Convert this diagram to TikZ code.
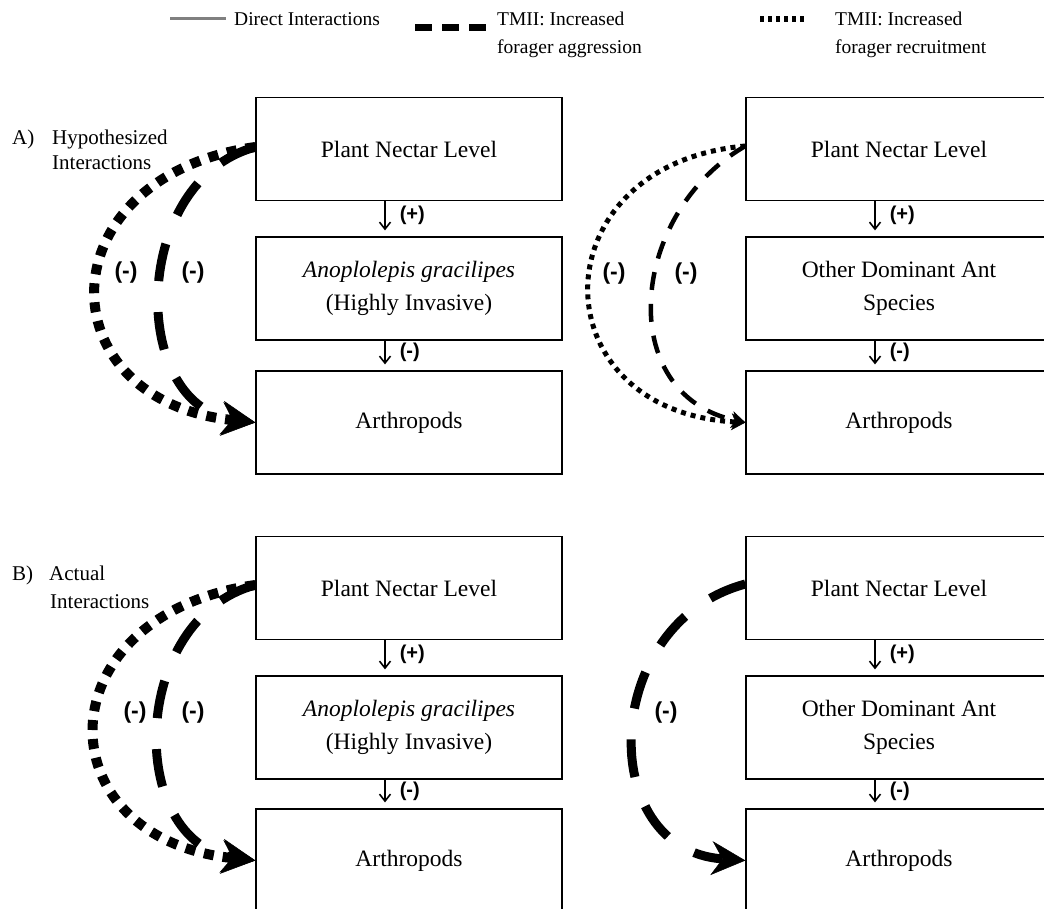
\documentclass[tikz,border=0pt]{standalone}
\usepackage{fontspec}
\setmainfont{Liberation Serif}
\newfontfamily\lsans{Liberation Sans}
\usetikzlibrary{arrows.meta}
\begin{document}
\begin{tikzpicture}[x=1pt,y=-1pt,
  box/.style={draw, line width=1.2pt, minimum width=306pt, minimum height=103pt, inner sep=0pt, font=\fontsize{23.5}{33}\selectfont, align=center},
  sarrow/.style={line width=1.6pt, -{Straight Barb[length=7pt,width=11pt,line width=1.6pt]}},
  sgn/.style={font=\lsans\bfseries\fontsize{20}{24}\selectfont, inner sep=0pt},
  bsgn/.style={font=\lsans\bfseries\fontsize{23}{26}\selectfont, inner sep=0pt},
  lbl/.style={font=\fontsize{21}{25}\selectfont, inner sep=0pt, anchor=base west},
  leg/.style={font=\fontsize{19.5}{28}\selectfont, inner sep=0pt, anchor=base west},
  thickdot/.style={line width=10pt, dash pattern=on 10pt off 9pt},
  thickdash/.style={line width=9pt, dash pattern=on 38pt off 31pt},
  thindot/.style={line width=5pt, dash pattern=on 5pt off 5pt},
  thindash/.style={line width=4.5pt, dash pattern=on 18pt off 14pt},
  bighead/.style={-{Stealth[length=34pt,width=34pt,inset=11pt,line width=0.5pt]}},
  smallhead/.style={-{Stealth[length=14pt,width=17pt,inset=4pt,line width=0.5pt]}},
]
\useasboundingbox (0,0) rectangle (1044,909);
% legend
\coordinate (g1) at (170,19); \coordinate (g2) at (226,19);
\draw[gray, line width=3pt] (g1) -- (g2);
\node[leg] (lt1) at (234,26) {Direct Interactions};
\coordinate (h1) at (415,28); \coordinate (h2) at (487,28);
\draw[line width=7pt, dash pattern=on 17pt off 10pt] (h1) -- (h2);
\node[leg] (lt2) at (497,26) {TMII: Increased};
\node[leg] (lt3) at (497,54) {forager aggression};
\coordinate (k1) at (760,19); \coordinate (k2) at (806,19);
\draw[line width=6pt, dash pattern=on 4pt off 4pt] (k1) -- (k2);
\node[leg] (lt4) at (835,26) {TMII: Increased};
\node[leg] (lt5) at (835,54) {forager recruitment};
% side labels
\node[lbl] (la) at (12,145) {A)};
\node[lbl] (la1) at (52,145) {Hypothesized};
\node[lbl] (la2) at (52,170) {Interactions};
\node[lbl] (lb) at (12,580) {B)};
\node[lbl] (lb1) at (49,580) {Actual};
\node[lbl] (lb2) at (50,608) {Interactions};
% boxes
\node[box] (a1) at (409,149) {Plant Nectar Level};
\node[box] (a2) at (409,288.5) {\textit{Anoplolepis gracilipes}\\(Highly Invasive)};
\node[box] (a3) at (409,422.5) {Arthropods};
\node[box] (c1) at (899,149) {Plant Nectar Level};
\node[box] (c2) at (899,288.5) {Other Dominant Ant\\Species};
\node[box] (c3) at (899,422.5) {Arthropods};
\node[box] (b1) at (409,588) {Plant Nectar Level};
\node[box] (b2) at (409,727.5) {\textit{Anoplolepis gracilipes}\\(Highly Invasive)};
\node[box] (b3) at (409,860.5) {Arthropods};
\node[box] (d1) at (899,588) {Plant Nectar Level};
\node[box] (d2) at (899,727.5) {Other Dominant Ant\\Species};
\node[box] (d3) at (899,860.5) {Arthropods};
% small arrows
\foreach \u/\v/\s in {a1/a2/+, a2/a3/-, c1/c2/+, c2/c3/-, b1/b2/+, b2/b3/-, d1/d2/+, d2/d3/-}{
  \draw[sarrow] ([xshift=-24pt]\u.south) -- ([xshift=-24pt,yshift=6pt]\v.north)
    node[sgn, midway, anchor=west, xshift=14pt] {(\s)};
}
% A left
\draw[thickdot, bighead] ([yshift=2pt]a1.west) to[out=188,in=174,looseness=1.98] (a3.west);
\draw[thickdash, bighead] ([yshift=2pt]a1.west) to[out=195,in=172,looseness=1.2] (a3.west);
\node[bsgn] (ma1) at (126,273) {(-)};
\node[bsgn] (ma2) at (193,273) {(-)};
% A right
\draw[thindot, smallhead] ([yshift=3pt]c1.west) to[out=185,in=177,looseness=1.94] (c3.west);
\draw[thindash, smallhead] ([yshift=3pt]c1.west) to[out=210,in=168,looseness=1.25] (c3.west);
\node[bsgn] (mc1) at (614,274) {(-)};
\node[bsgn] (mc2) at (686,274) {(-)};
% B left
\draw[thickdot, bighead] ([yshift=3pt]b1.west) to[out=188,in=174,looseness=2.0] (b3.west);
\draw[thickdash, bighead] ([yshift=3pt]b1.west) to[out=195,in=172,looseness=1.22] (b3.west);
\node[bsgn] (mb1) at (135,713) {(-)};
\node[bsgn] (mb2) at (193,713) {(-)};
% B right
\draw[thickdash, bighead] ([yshift=4pt]d1.west) to[out=195,in=176,looseness=1.4] (d3.west);
\node[bsgn] (md1) at (666,713) {(-)};
\end{tikzpicture}
\end{document}
